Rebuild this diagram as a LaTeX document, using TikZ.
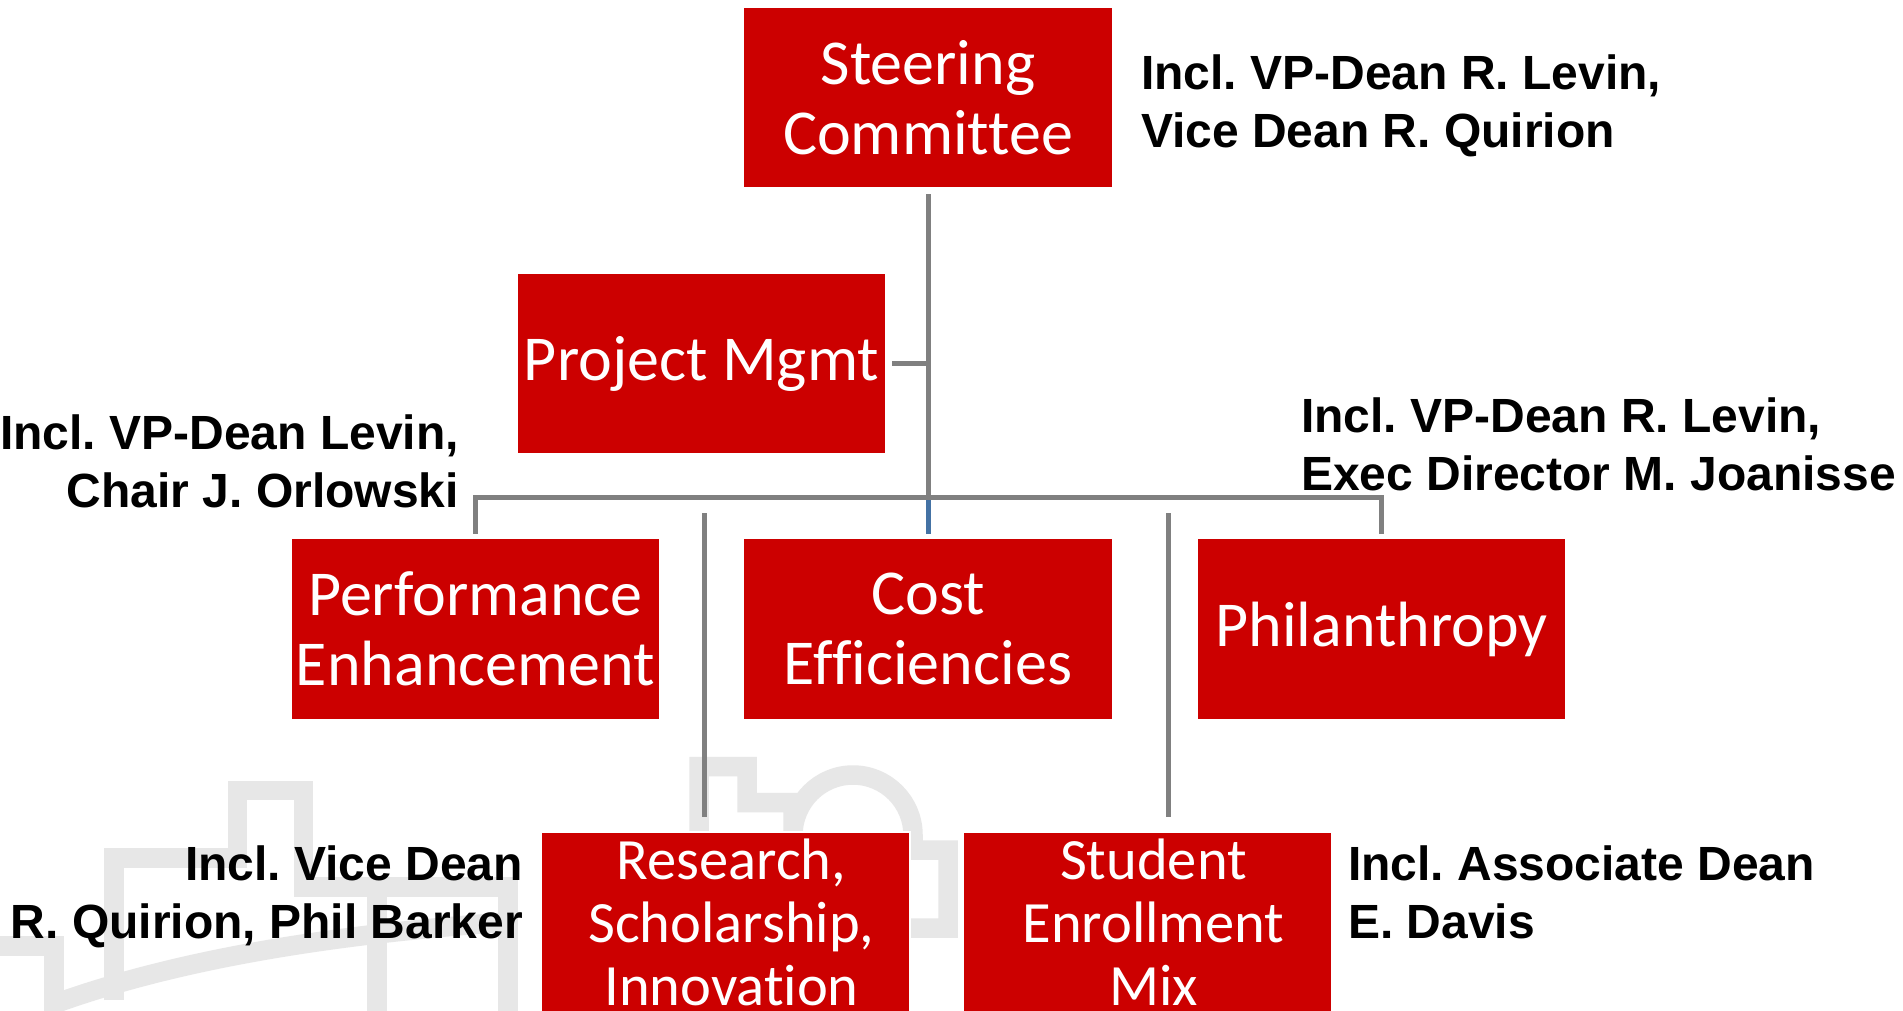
\documentclass[tikz,border=0pt]{standalone}
\usepackage{fontspec}
\setmainfont{Carlito}[Ligatures=CommonOff]
\newfontfamily\annotfont{Liberation Sans}
\definecolor{boxred}{RGB}{204,0,0}
\definecolor{conngray}{RGB}{128,128,128}
\definecolor{connblue}{RGB}{68,114,164}
\definecolor{wmgray}{RGB}{231,231,231}
\frenchspacing
\begin{document}
\begin{tikzpicture}[x=1pt,y=-1pt,
  box/.style={rectangle, fill=boxred, draw=white, line width=1.5pt,
    minimum width=369pt, minimum height=181pt, inner sep=0pt, outer sep=0pt,
    text=white, align=center, font=\fontsize{64}{70}\selectfont},
  smallbox/.style={box, font=\fontsize{58.5}{63}\selectfont},
  annot/.style={inner sep=0pt, outer sep=0pt, text=black,
    font=\annotfont\bfseries\fontsize{48}{57.5}\selectfont},
  conn/.style={draw=conngray, line width=5pt},
  wm/.style={draw=wmgray, line width=19.5pt, line join=miter}]
\useasboundingbox (0,0) rectangle (1903,1010);
\clip (0,0) rectangle (1903,1010);
\fill[white] (0,0) rectangle (1903,1010);

% watermark
\draw[wm] (0,946) -- (54,946) -- (54,1015);
\draw[wm] (114,1000) -- (114,858) -- (237.5,858) -- (237.5,790.5) -- (303.5,790.5) -- (303.5,887) -- (508,887) -- (508,1015);
\draw[wm] (377,887) -- (377,1015);
\draw[wm] (54,1004) .. controls (170,962) and (320,935) .. (508,922);
\draw[wm] (699,834) -- (699,766.5) -- (747,766.5) -- (747,802.5) -- (793,802.5) -- (793,835)
  arc[start angle=180, end angle=0, radius=60pt] -- (913,850) -- (948,850) -- (948,928) -- (905,928);

% boxes
\node[box] (sc) at (928,97.5) {Steering\\Committee};
\node[box] (pm) at (701.5,363.5) {Project Mgmt};
\node[box] (pe) at (475.5,629) {Performance\\Enhancement};
\node[box] (ce) at (928,629) {Cost\\Efficiencies};
\node[box] (ph) at (1381.5,629) {Philanthropy};
\node[smallbox] (rs) at (725.5,922.5) {\hspace*{12pt}Research,\\\hspace*{12pt}Scholarship,\\\hspace*{12pt}Innovation};
\node[smallbox] (se) at (1147.5,922.5) {\hspace*{12pt}Student\\\hspace*{12pt}Enrollment\\\hspace*{12pt}Mix};

% connectors
\coordinate (bar) at (928,497);
\coordinate (rtop) at (704,513);
\coordinate (stop) at (1168,513);
\draw[conn] ([yshift=-6pt]sc.south) -- (sc.south |- bar);
\draw[conn, draw=connblue] (sc.south |- bar) -- ([yshift=5pt]ce.north);
\draw[conn] ([xshift=6pt]pm.east) -- (pm.east -| sc.south);
\draw[conn] ([yshift=5pt]pe.north) -- (pe.north |- bar) -- (ph.north |- bar) -- ([yshift=5pt]ph.north);
\draw[conn] (rtop) -- ([yshift=15pt]rtop |- rs.north);
\draw[conn] (stop) -- ([yshift=15pt]stop |- se.north);

% annotations (anchored at the baseline of the last line)
\node[annot, anchor=base west, align=left] (a1) at (1141,147) {Incl. VP-Dean R. Levin,\\Vice Dean R. Quirion};
\node[annot, anchor=base east, align=right] (a2) at (459,507) {Incl. VP-Dean Levin,\\Chair J. Orlowski};
\node[annot, anchor=base west, align=left] (a3) at (1301,490) {Incl. VP-Dean R. Levin,\\Exec Director M. Joanisse};
\node[annot, anchor=base east, align=right] (a4) at (523,938) {Incl. Vice Dean\\R. Quirion, Phil Barker};
\node[annot, anchor=base west, align=left] (a5) at (1348,938) {Incl. Associate Dean\\E. Davis};
\end{tikzpicture}
\end{document}
